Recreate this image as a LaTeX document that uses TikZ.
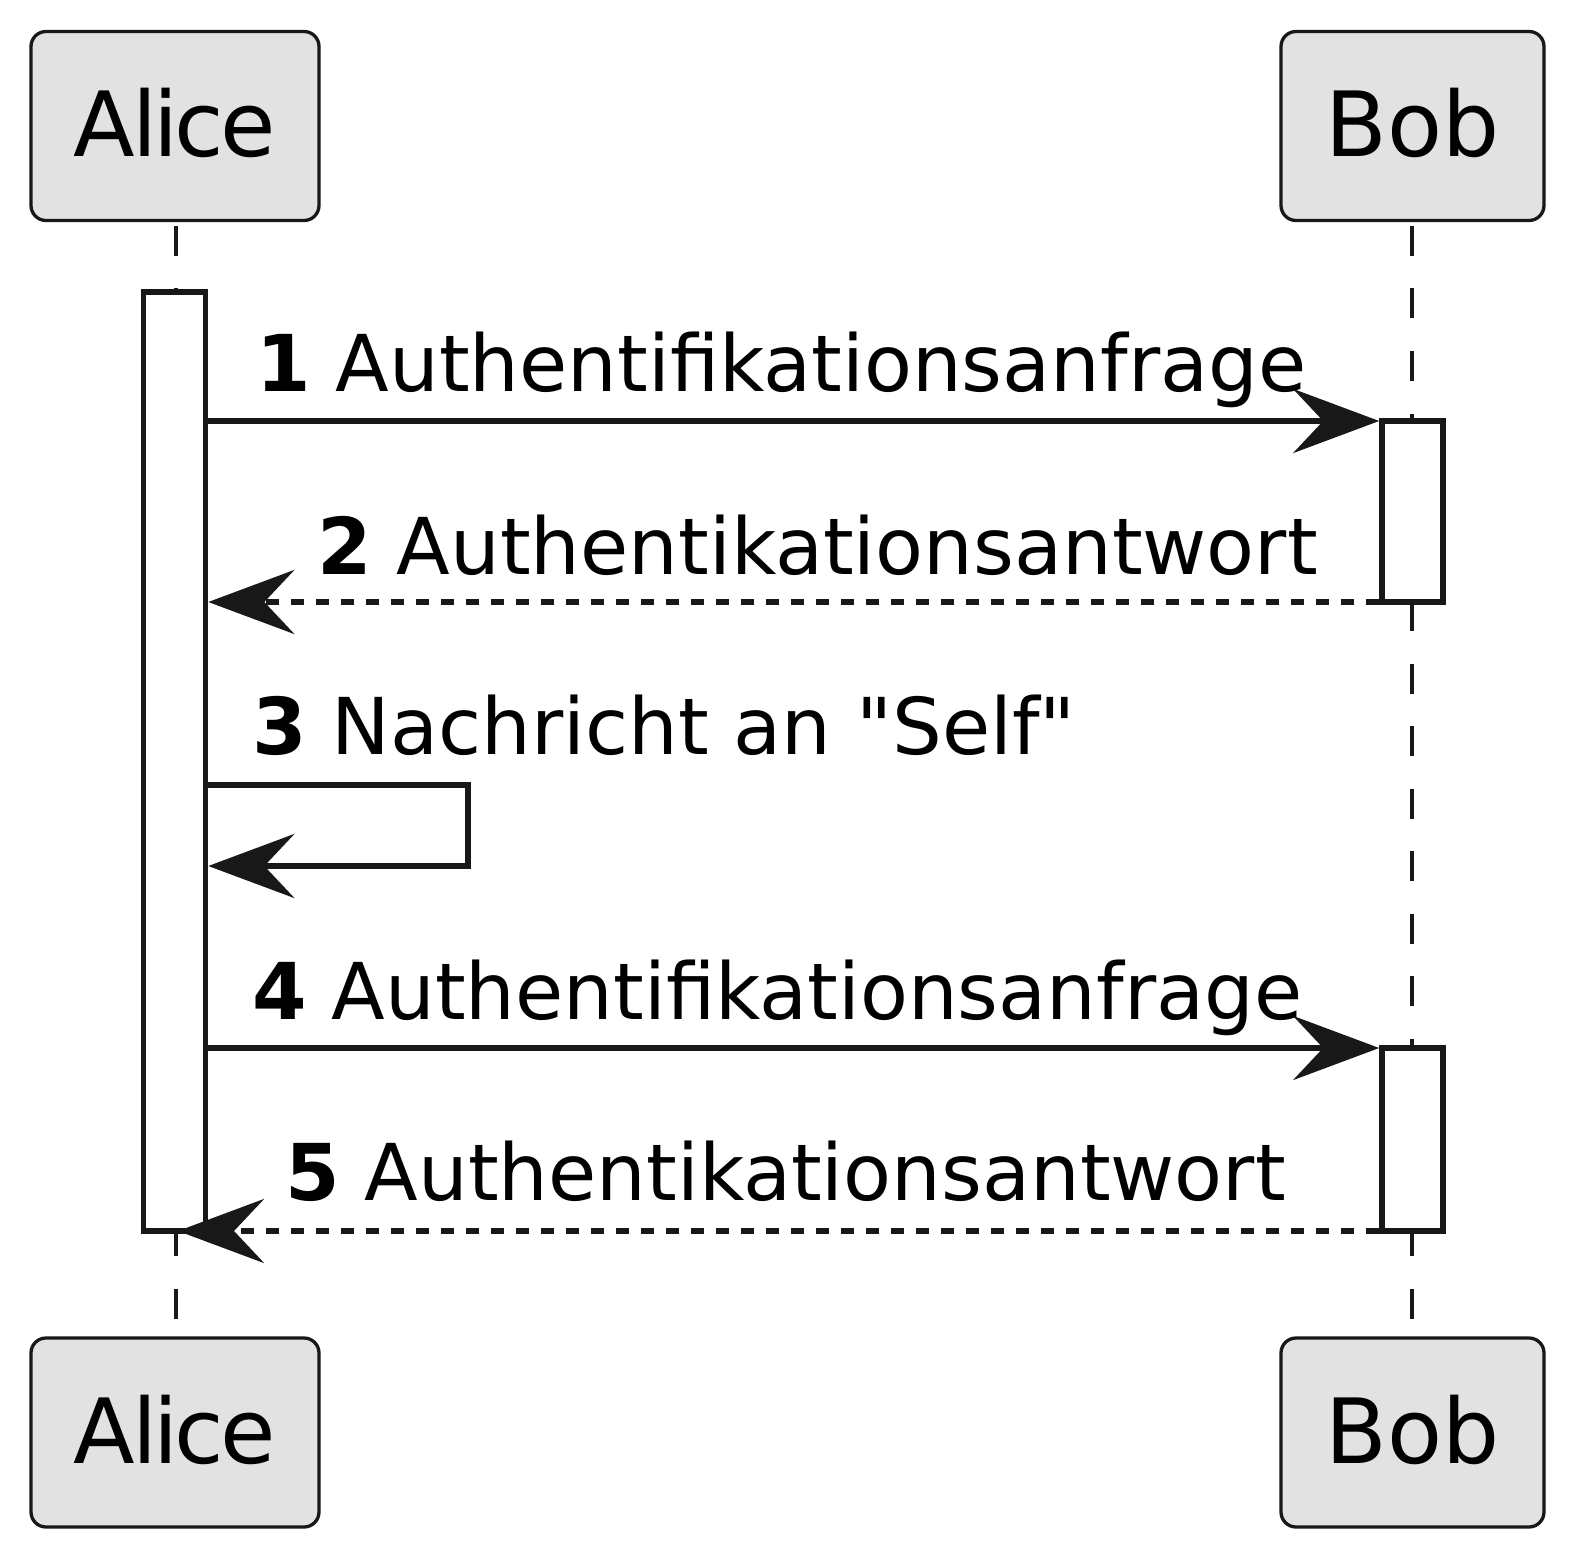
\documentclass[tikz,border=0pt]{standalone}
\usepackage{fontspec}
\setmainfont{DejaVu Sans}
\usetikzlibrary{arrows.meta}
\definecolor{ink}{HTML}{181818}
\definecolor{boxfill}{HTML}{E2E2E2}

\begin{document}
\begin{tikzpicture}[x=0.5pt,y=-0.5pt,
  party/.style={draw=ink, fill=boxfill, line width=1.65pt, rounded corners=7.5pt,
    minimum width=#1, minimum height=94.5pt, inner sep=0pt,
    text height=31pt, text depth=0pt,
    font=\fontsize{45pt}{54pt}\selectfont},
  tight/.style={font=\fontsize{45pt}{54pt}\selectfont\addfontfeature{LetterSpace=-4}},
  lifeline/.style={draw=ink, line width=1.6pt, dash pattern=on 15pt off 16.25pt},
  act/.style={draw=ink, fill=white, line width=2.8pt, inner sep=0pt,
    minimum width=31pt},
  msg/.style={draw=ink, line width=2.6pt,
    -{Stealth[length=43pt, width=32pt, inset=15pt, fill=ink]}},
  reply/.style={msg, dash pattern=on 6.5pt off 6pt},
  lbl/.style={anchor=base west, inner sep=0pt, text=black,
    font=\fontsize{39.2pt}{46pt}\selectfont},
]
\useasboundingbox[fill=white] (0,0) rectangle (1575,1557);

% participants, top and bottom
\node[party=144pt, tight] (aliceTop) at (175,126) {Alice};
\node[party=131.5pt] (bobTop) at (1412.5,126) {Bob};
\node[party=144pt, tight] (aliceBot) at (175,1432.5) {Alice};
\node[party=131.5pt] (bobBot) at (1412.5,1432.5) {Bob};

% lifelines
\coordinate (aL1) at (176,226);
\coordinate (aL2) at (176,1320);
\coordinate (bL1) at (1412,226);
\coordinate (bL2) at (1412,1320);
\draw[lifeline] (aL1) -- (aL2);
\draw[lifeline] (bL1) -- (bL2);

% activation bars
\node[act, minimum height=469.5pt] (aliceAct) at (174.5,761.5) {};
\node[act, minimum height=90.5pt, minimum width=30.5pt] (bobAct1) at (1412.5,511.5) {};
\node[act, minimum height=91.5pt, minimum width=30.5pt] (bobAct2) at (1412.5,1139.5) {};

% message levels
\coordinate (m1) at (0,421);
\coordinate (m2) at (0,602);
\coordinate (m3a) at (0,785);
\coordinate (m3b) at (0,866);
\coordinate (m4) at (0,1048);
\coordinate (m5) at (0,1231);
\coordinate (selfTurn) at (468,0);

% messages
\draw[msg] (aliceAct.east |- m1) -- (bobAct1.west |- m1);
\node[lbl] (t1) at (256,392) {\textbf{1} Authentifikationsanfrage};

\draw[reply] (bobAct1.west |- m2) -- (aliceAct.east |- m2);
\node[lbl] (t2) at (317,574) {\textbf{2} Authentikationsantwort};

\draw[msg] (aliceAct.east |- m3a) -- (selfTurn |- m3a) -- (selfTurn |- m3b) -- (aliceAct.east |- m3b);
\node[lbl] (t3) at (252,754) {\textbf{3} Nachricht an \textquotedbl Self\textquotedbl};

\draw[msg] (aliceAct.east |- m4) -- (bobAct2.west |- m4);
\node[lbl] (t4) at (252,1019) {\textbf{4} Authentifikationsanfrage};

\draw[reply] (bobAct2.west |- m5) -- ([xshift=1pt]aL1 |- m5);
\node[lbl] (t5) at (285,1200) {\textbf{5} Authentikationsantwort};
\end{tikzpicture}
\end{document}
